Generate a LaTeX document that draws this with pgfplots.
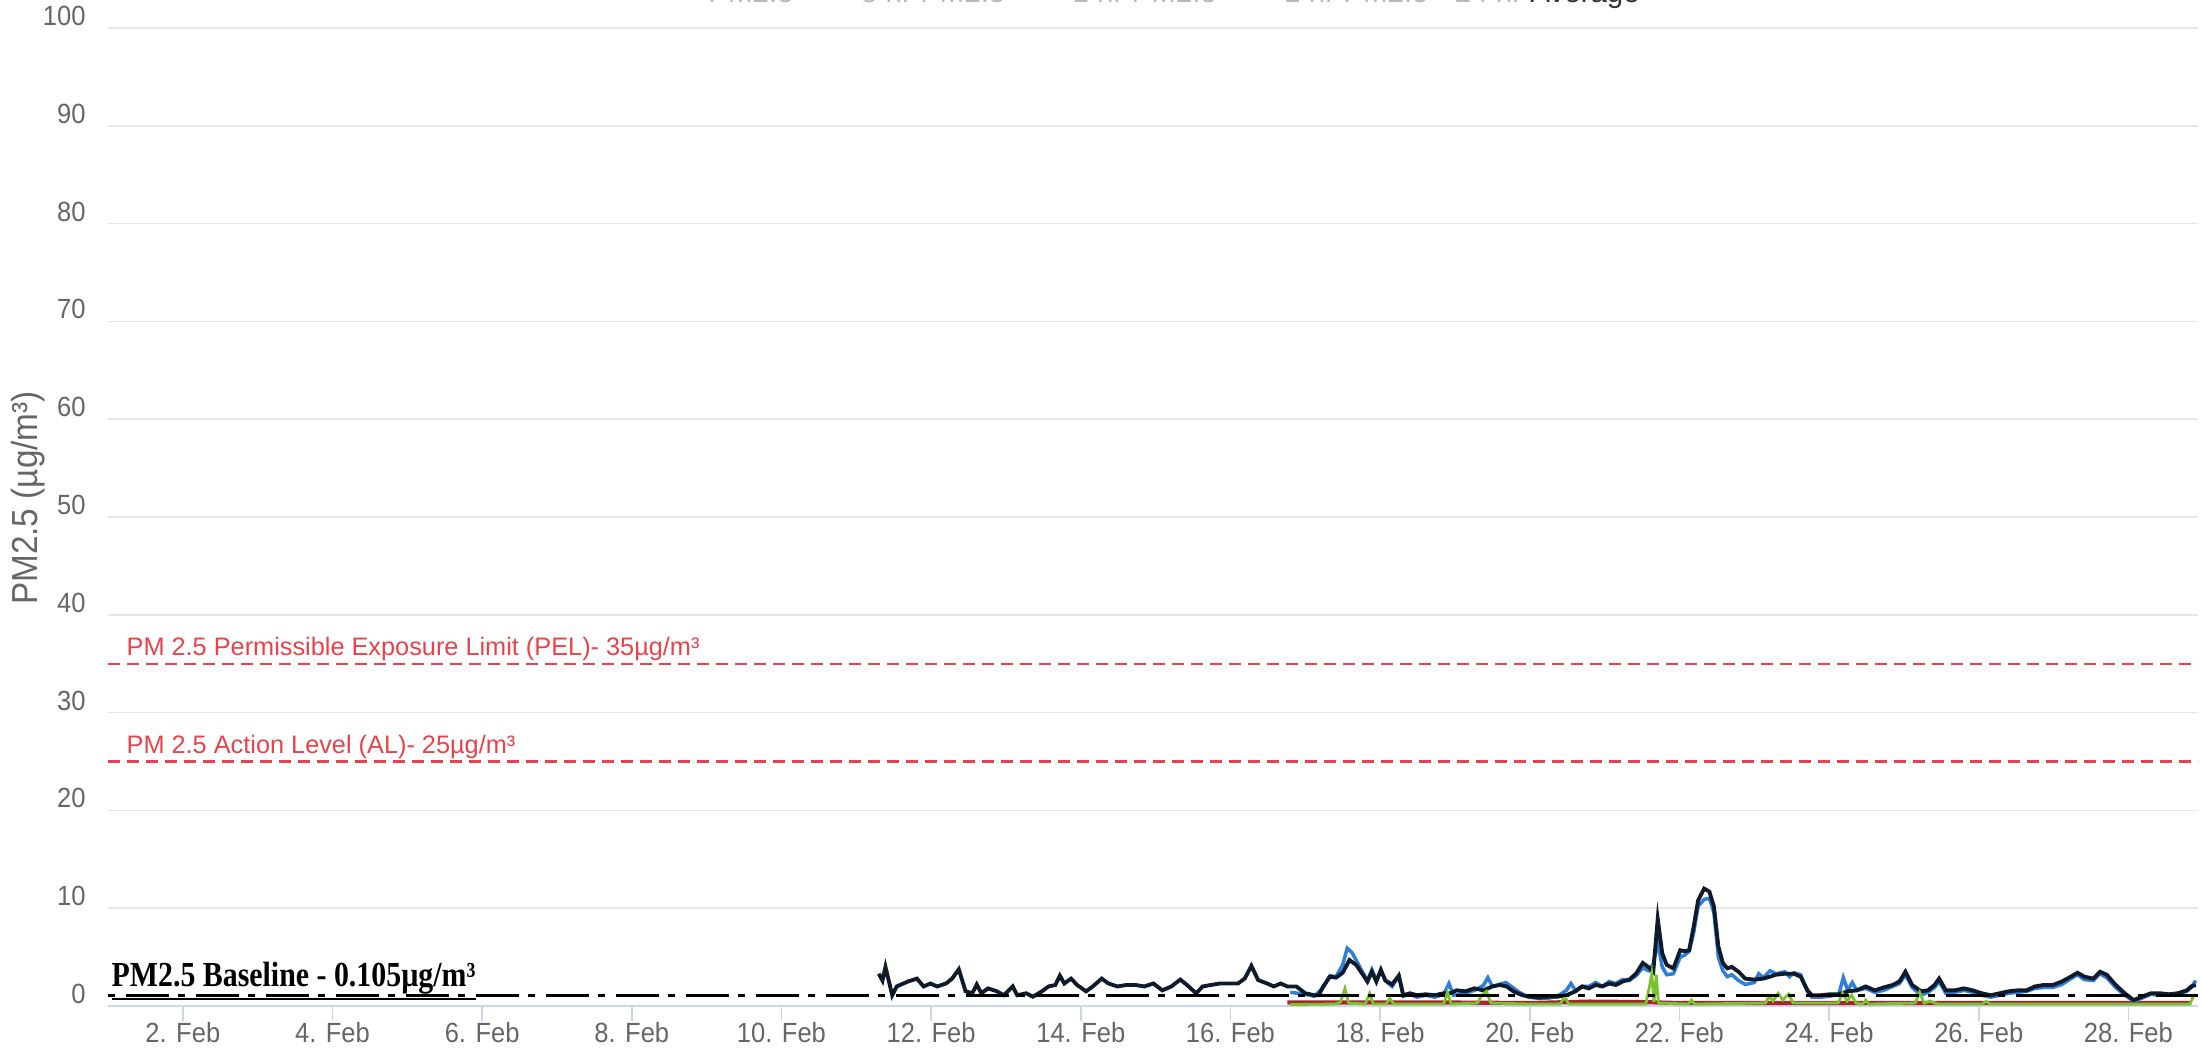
\documentclass[border=0pt]{standalone}
\usepackage{fontspec}
\setmainfont{Liberation Sans}
\newfontfamily\slab[FakeStretch=0.85]{Liberation Serif}
\newfontfamily\condsans[FakeStretch=0.92]{Liberation Sans}
\usepackage{pgfplots}
\pgfplotsset{compat=1.18}
\definecolor{gridc}{HTML}{E6E6E6}
\definecolor{axisc}{HTML}{CCD6EB}
\definecolor{labc}{HTML}{666666}
\definecolor{sblue}{HTML}{2F7ED8}
\definecolor{sblack}{HTML}{0F1A2B}
\definecolor{sgreen}{HTML}{7CC22E}
\definecolor{sred}{HTML}{A5262B}
\definecolor{limred}{HTML}{E8424A}
\begin{document}
\begin{tikzpicture}
\useasboundingbox (0,0) rectangle (22.01cm,10.56cm);
\clip (0,0) rectangle (22.01cm,10.56cm);
\begin{axis}[
  at={(1.08cm,0.50cm)}, anchor=south west,
  scale only axis, width=20.90cm, height=9.78cm,
  xmin=1, xmax=28.93, ymin=0, ymax=100,
  axis lines*=left,
  x axis line style={draw=axisc, line width=0.5pt},
  y axis line style={draw=none},
  xtick={2,4,...,28},
  xticklabels={2. Feb,4. Feb,6. Feb,8. Feb,10. Feb,12. Feb,14. Feb,16. Feb,18. Feb,20. Feb,22. Feb,24. Feb,26. Feb,28. Feb},
  ytick={0,10,...,100},
  ymajorgrids, grid style={draw=gridc, line width=0.5pt},
  tick align=outside,
  major tick length=1.5mm,
  xtick style={draw=axisc, line width=0.5pt},
  ytick style={draw=none},
  ticklabel style={font=\condsans\fontsize{7.9}{9}\selectfont, text=labc},
  xticklabel style={yshift=1.1mm},
  yticklabel style={xshift=0.5mm, yshift=1.2mm, /pgf/number format/assume math mode=true},
]
% red (maroon) series
\addplot[sred, line width=1.2pt] coordinates {(16.76,0.35)(19.0,0.35)(20.0,0.3)(20.8,0.45)(21.5,0.4)(22.0,0.3)(25.0,0.3)(28.84,0.3)};
% blue series
\addplot[sblue, line width=1.0pt] coordinates {(16.80,1.4)(17.00,1.2)(17.12,1.0)(17.24,1.9)(17.33,3.1)(17.41,3.0)(17.50,4.2)(17.56,5.9)(17.62,5.5)(17.70,4.4)(17.77,3.4)(17.83,2.6)(17.89,3.7)(17.95,2.6)(18.01,3.6)(18.07,2.6)(18.16,2.0)(18.25,3.1)(18.31,1.0)(18.40,1.2)(18.49,0.9)(18.61,1.1)(18.73,0.9)(18.85,1.2)(18.92,2.3)(18.98,1.1)(19.14,1.3)(19.26,1.6)(19.38,2.1)(19.44,2.9)(19.50,2.0)(19.59,2.2)(19.68,2.4)(19.77,1.9)(19.86,1.4)(19.98,0.9)(20.10,0.8)(20.25,0.8)(20.37,1.0)(20.49,1.6)(20.55,2.3)(20.61,1.6)(20.70,2.0)(20.79,2.0)(20.88,2.4)(20.97,2.0)(21.06,2.5)(21.15,2.3)(21.24,2.7)(21.33,2.6)(21.42,3.1)(21.51,3.9)(21.59,3.6)(21.65,4.3)(21.71,6.5)(21.77,4.0)(21.83,3.2)(21.92,3.3)(22.01,5.0)(22.07,5.2)(22.13,5.6)(22.19,7.5)(22.25,10.2)(22.33,10.9)(22.40,11.0)(22.46,9.6)(22.52,5.0)(22.58,3.6)(22.64,3.0)(22.70,3.2)(22.79,2.6)(22.88,2.2)(23.00,2.4)(23.06,3.3)(23.12,2.9)(23.21,3.6)(23.29,3.3)(23.41,3.5)(23.47,3.0)(23.53,3.4)(23.62,3.2)(23.71,1.5)(23.77,0.9)(23.89,0.9)(24.01,1.0)(24.13,1.2)(24.19,2.9)(24.25,1.6)(24.31,2.4)(24.37,1.6)(24.49,1.8)(24.61,1.4)(24.73,1.6)(24.85,2.0)(24.94,2.3)(25.02,3.2)(25.11,1.9)(25.23,1.1)(25.32,1.4)(25.41,1.9)(25.47,2.5)(25.56,1.3)(25.68,1.4)(25.80,1.6)(25.92,1.4)(26.04,1.1)(26.16,0.9)(26.28,1.1)(26.40,1.3)(26.52,1.4)(26.64,1.5)(26.75,1.8)(26.87,1.9)(26.99,1.9)(27.11,2.2)(27.23,2.8)(27.32,3.2)(27.41,2.7)(27.53,2.6)(27.62,3.3)(27.71,2.9)(27.83,1.9)(27.95,1.1)(28.07,0.5)(28.18,0.8)(28.30,1.2)(28.42,1.1)(28.54,1.1)(28.66,1.2)(28.78,1.5)(28.84,1.9)(28.90,2.6)};
% black series
\addplot[sblack, line width=1.1pt] coordinates {(11.30,3.3)(11.35,2.6)(11.39,4.0)(11.48,1.1)(11.54,2.0)(11.69,2.5)(11.81,2.8)(11.90,2.0)(11.99,2.3)(12.08,2.0)(12.20,2.3)(12.28,2.8)(12.37,3.75)(12.46,1.5)(12.55,1.3)(12.61,2.2)(12.67,1.3)(12.76,1.8)(12.88,1.5)(12.97,1.1)(13.09,2.0)(13.15,1.1)(13.27,1.3)(13.36,0.95)(13.48,1.5)(13.57,2.0)(13.66,2.15)(13.72,3.1)(13.78,2.3)(13.87,2.8)(13.95,2.15)(14.07,1.5)(14.16,2.0)(14.28,2.8)(14.37,2.3)(14.49,2.0)(14.61,2.15)(14.73,2.15)(14.85,2.0)(14.97,2.3)(15.09,1.6)(15.21,2.0)(15.33,2.7)(15.42,2.15)(15.54,1.3)(15.63,2.0)(15.74,2.15)(15.86,2.3)(15.98,2.3)(16.10,2.3)(16.19,2.8)(16.28,4.1)(16.37,2.65)(16.49,2.3)(16.58,2.0)(16.67,2.3)(16.76,2.0)(16.88,2.0)(17.00,1.3)(17.12,1.1)(17.18,1.1)(17.24,2.0)(17.33,3.0)(17.41,2.9)(17.50,3.4)(17.59,4.7)(17.68,4.2)(17.77,3.2)(17.83,2.5)(17.89,3.5)(17.95,2.5)(18.01,3.7)(18.07,2.6)(18.16,2.2)(18.25,3.1)(18.31,1.1)(18.40,1.3)(18.49,1.1)(18.61,1.2)(18.73,1.1)(18.85,1.3)(18.94,1.3)(19.02,1.6)(19.14,1.5)(19.26,1.8)(19.38,1.6)(19.50,2.0)(19.60,2.15)(19.69,2.0)(19.78,1.5)(19.90,1.1)(20.01,0.95)(20.13,0.85)(20.25,0.95)(20.37,0.95)(20.49,1.1)(20.61,1.5)(20.70,2.0)(20.79,1.8)(20.88,2.15)(20.97,2.0)(21.06,2.3)(21.15,2.15)(21.24,2.5)(21.33,2.7)(21.42,3.3)(21.51,4.4)(21.59,3.95)(21.65,3.5)(21.71,8.9)(21.77,5.4)(21.83,4.2)(21.92,3.85)(22.01,5.7)(22.07,5.6)(22.13,5.7)(22.19,8.1)(22.25,10.8)(22.33,12.0)(22.40,11.7)(22.46,10.2)(22.52,6.1)(22.58,4.4)(22.64,3.85)(22.70,4.0)(22.79,3.5)(22.88,2.8)(23.00,2.7)(23.12,2.8)(23.21,3.0)(23.29,3.2)(23.41,3.3)(23.53,3.3)(23.62,3.0)(23.71,1.6)(23.77,1.1)(23.89,1.1)(24.01,1.2)(24.13,1.2)(24.25,1.5)(24.37,1.6)(24.49,2.0)(24.61,1.6)(24.73,1.9)(24.85,2.15)(24.94,2.5)(25.02,3.5)(25.11,2.15)(25.23,1.5)(25.32,1.6)(25.41,2.15)(25.47,2.8)(25.56,1.6)(25.68,1.6)(25.80,1.8)(25.92,1.6)(26.04,1.3)(26.16,1.1)(26.28,1.3)(26.40,1.5)(26.52,1.6)(26.64,1.6)(26.75,2.0)(26.87,2.15)(26.99,2.15)(27.11,2.5)(27.23,3.0)(27.32,3.4)(27.41,3.0)(27.53,2.8)(27.62,3.5)(27.71,3.2)(27.83,2.15)(27.95,1.3)(28.07,0.6)(28.18,0.95)(28.30,1.3)(28.42,1.3)(28.54,1.2)(28.66,1.3)(28.78,1.6)(28.84,2.0)(28.90,2.15)};
% green series
\addplot[sgreen, line width=0.8pt] coordinates {(16.80,0.15)(17.40,0.2)(17.47,0.4)(17.53,1.8)(17.58,0.3)(17.80,0.2)(17.86,1.3)(17.91,0.2)(18.08,0.2)(18.13,0.8)(18.18,0.2)(18.85,0.2)(18.90,1.4)(18.95,0.2)(19.30,0.3)(19.36,1.1)(19.42,1.5)(19.48,0.3)(20.00,0.2)(20.40,0.2)(20.47,0.9)(20.52,0.2)(21.55,0.2)(21.60,2.0)(21.63,3.3)(21.66,0.4)(21.69,3.2)(21.72,0.3)(22.12,0.2)(22.16,0.6)(22.20,0.2)(23.15,0.3)(23.20,1.0)(23.25,0.5)(23.32,1.3)(23.38,0.6)(23.46,1.2)(23.52,0.3)(24.12,0.3)(24.18,1.3)(24.24,0.5)(24.30,1.1)(24.36,0.3)(24.45,0.2)(24.49,0.6)(24.53,0.2)(25.15,0.3)(25.21,1.4)(25.27,0.3)(25.35,0.5)(25.45,0.2)(26.05,0.2)(26.10,0.5)(26.15,0.2)(28.82,0.2)(28.87,1.0)(28.90,1.2)};
% baseline and limit lines
\addplot[black, line width=0.9pt, dash pattern=on 0.7mm off 1.1mm on 4.3mm off 0.9mm] coordinates {(1,1.05)(28.93,1.05)};
\addplot[limred, line width=0.6pt, dash pattern=on 1.2mm off 0.7mm] coordinates {(1,35)(28.93,35)};
\addplot[limred, line width=0.6pt, dash pattern=on 1.2mm off 0.7mm] coordinates {(1,25)(28.93,25)};
\node[anchor=base west, yshift=0.8mm, inner sep=0pt, text=limred, font=\fontsize{7.2}{9}\selectfont] at (axis cs:1.24,35) {PM 2.5 Permissible Exposure Limit (PEL)- 35µg/m³};
\node[anchor=base west, yshift=0.8mm, inner sep=0pt, text=limred, font=\fontsize{7.2}{9}\selectfont] at (axis cs:1.24,25) {PM 2.5 Action Level (AL)- 25µg/m³};
\node[anchor=base west, yshift=0.95mm, inner sep=0pt, font=\slab\bfseries\fontsize{10}{12}\selectfont] at (axis cs:1.04,1.05) {\underline{PM2.5 Baseline - 0.105µg/m³}};
\end{axis}
\node[rotate=90, text=labc, font=\condsans\fontsize{10.3}{12}\selectfont] at (0.28cm,5.58cm) {PM2.5 (µg/m³)};
\node[anchor=base west, inner sep=0pt, text=gray!55, font=\fontsize{8.4}{10}\selectfont] at (6.70cm,10.535cm) {— PM2.5\quad — 8 hr PM2.5\quad — 1 hr PM2.5\quad — 1 hr PM2.5 - 24 hr \textcolor{black!80}{Average}};
\end{tikzpicture}
\end{document}
